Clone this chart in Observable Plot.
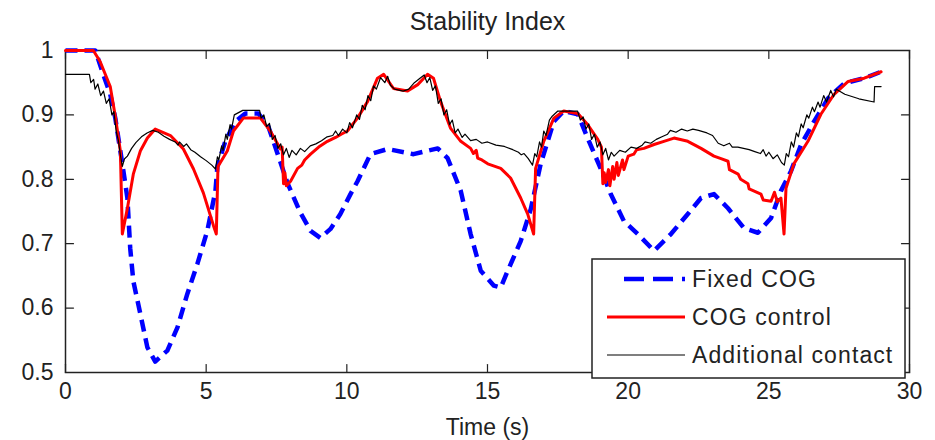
<!DOCTYPE html>
<html>
<head>
<meta charset="utf-8">
<script src="https://cdn.jsdelivr.net/npm/d3@7"></script>
<script src="https://cdn.jsdelivr.net/npm/@observablehq/plot@0.6"></script>
<style>
  body { margin: 0; background: #fff; }
  #wrap { position: relative; width: 935px; height: 440px; font-family: "Liberation Sans", Arial, sans-serif; }
  #legend { position: absolute; left: 591px; top: 258px; }
</style>
</head>
<body>
<div id="wrap"></div>
<script>
const title = "Stability Index";
const xLabel = "Time (s)";
const seriesNames = ["Fixed COG", "COG control", "Additional contact"];
const seriesColors = ["#0000ff", "#ff0000", "#000000"];
const xTicks = [0, 5, 10, 15, 20, 25, 30];
const yTicks = [0.5, 0.6, 0.7, 0.8, 0.9, 1];

// Fixed COG (blue dashed): [time, index]
const fixedCOG = [
  [0,1.0],[1.06,1.0],[1.34,0.963],[1.59,0.932],[1.77,0.895],[2.02,0.824],[2.2,0.771],[2.3,0.693],
  [2.41,0.642],[2.66,0.591],[2.91,0.539],[3.19,0.517],[3.62,0.534],[3.98,0.57],[4.33,0.622],
  [4.69,0.669],[5.04,0.72],[5.33,0.782],[5.4,0.82],[5.68,0.859],[6.04,0.89],[6.39,0.902],
  [6.86,0.902],[7.21,0.882],[7.39,0.859],[7.89,0.794],[8.35,0.748],[8.71,0.72],[9.06,0.709],
  [9.42,0.723],[9.77,0.746],[10.13,0.777],[10.38,0.797],[10.84,0.839],[11.45,0.847],[12.37,0.839],
  [13.23,0.848],[13.58,0.833],[14.05,0.782],[14.4,0.715],[14.76,0.658],[15.22,0.635],[15.47,0.632],
  [15.72,0.658],[16.18,0.704],[16.54,0.754],[16.89,0.824],[17.36,0.89],[17.71,0.906],[18.21,0.901],
  [18.56,0.864],[19.02,0.817],[19.38,0.777],[19.85,0.735],[20.34,0.715],[20.92,0.689],[21.52,0.715],
  [22.12,0.746],[22.59,0.771],[23.05,0.777],[23.55,0.755],[24.12,0.724],[24.61,0.717],[25.08,0.74],
  [25.43,0.782],[25.79,0.813],[26.15,0.854],[26.61,0.89],[27.11,0.926],[27.68,0.949],[28.39,0.957],
  [28.99,0.967]
];

// COG control (red solid)
const cogControl = [
  [0,1.0],[0.99,1.0],[1.23,0.983],[1.59,0.944],[1.77,0.898],[1.95,0.844],[2.02,0.715],[2.2,0.755],
  [2.41,0.808],[2.66,0.844],[2.91,0.864],[3.19,0.878],[3.73,0.868],[4.19,0.847],[4.55,0.816],
  [4.9,0.779],[5.26,0.728],[5.36,0.715],[5.42,0.82],[5.75,0.844],[5.97,0.875],[6.32,0.895],
  [6.93,0.895],[7.28,0.875],[7.64,0.847],[7.7,0.85],[7.75,0.793],[7.8,0.81],[7.85,0.79],[8.0,0.797],
  [8.25,0.817],[8.4,0.822],[8.5,0.83],[8.71,0.839],[9.0,0.85],[9.31,0.859],[9.6,0.865],[9.8,0.87],
  [10.02,0.875],[10.38,0.895],[10.74,0.921],[11.09,0.957],[11.31,0.963],[11.66,0.941],[12.16,0.937],
  [12.52,0.947],[12.87,0.963],[13.08,0.957],[13.33,0.921],[13.69,0.879],[14.05,0.859],[14.4,0.848],
  [14.5,0.84],[14.6,0.845],[14.65,0.833],[14.8,0.83],[15.01,0.824],[15.47,0.817],[15.82,0.802],
  [16.18,0.771],[16.43,0.746],[16.64,0.715],[16.71,0.817],[17.0,0.859],[17.36,0.895],[17.71,0.906],
  [18.21,0.902],[18.56,0.885],[18.92,0.862],[19.05,0.85],[19.1,0.793],[19.15,0.81],[19.2,0.795],
  [19.3,0.815],[19.35,0.79],[19.45,0.82],[19.5,0.8],[19.6,0.826],[19.65,0.806],[19.8,0.83],
  [19.85,0.815],[20.0,0.836],[20.2,0.839],[20.3,0.846],[20.56,0.848],[20.92,0.854],[21.27,0.859],
  [21.63,0.864],[22.12,0.859],[22.59,0.848],[23.05,0.836],[23.3,0.832],[23.55,0.828],[23.6,0.815],
  [23.91,0.808],[24.0,0.8],[24.26,0.793],[24.3,0.785],[24.72,0.777],[24.8,0.768],[25.08,0.766],
  [25.2,0.78],[25.3,0.765],[25.43,0.771],[25.54,0.715],[25.61,0.786],[25.89,0.824],[26.39,0.859],
  [26.85,0.901],[27.32,0.932],[27.82,0.952],[28.39,0.957],[28.99,0.967]
];

// Additional contact (black thin)
const contact = [
  [0,0.963],[0.85,0.963],[0.9,0.95],[1.0,0.955],[1.05,0.94],[1.15,0.948],[1.25,0.93],[1.35,0.937],
  [1.45,0.918],[1.55,0.925],[1.65,0.9],[1.72,0.905],[1.8,0.875],[1.88,0.86],[1.95,0.838],[2.02,0.82],
  [2.1,0.832],[2.2,0.836],[2.35,0.848],[2.5,0.857],[2.7,0.866],[2.9,0.872],[3.1,0.876],[3.3,0.873],
  [3.5,0.867],[3.7,0.862],[3.9,0.858],[4.0,0.853],[4.05,0.858],[4.2,0.851],[4.3,0.855],[4.45,0.846],
  [4.6,0.842],[4.8,0.835],[5.0,0.829],[5.2,0.822],[5.33,0.816],[5.4,0.835],[5.45,0.83],[5.55,0.852],
  [5.6,0.845],[5.7,0.87],[5.75,0.862],[5.85,0.885],[5.9,0.878],[6.0,0.9],[6.3,0.907],[6.9,0.907],
  [6.95,0.895],[7.05,0.9],[7.15,0.882],[7.25,0.887],[7.35,0.862],[7.45,0.868],[7.55,0.848],[7.65,0.855],
  [7.75,0.838],[7.85,0.848],[7.95,0.834],[8.05,0.845],[8.2,0.838],[8.35,0.848],[8.5,0.843],[8.7,0.852],
  [8.9,0.855],[9.1,0.86],[9.3,0.866],[9.5,0.868],[9.6,0.875],[9.7,0.868],[9.85,0.878],[10.0,0.872],
  [10.1,0.888],[10.2,0.88],[10.35,0.9],[10.45,0.893],[10.55,0.915],[10.65,0.908],[10.75,0.93],
  [10.85,0.922],[10.95,0.945],[11.05,0.94],[11.2,0.958],[11.35,0.95],[11.45,0.96],[11.55,0.946],
  [11.7,0.94],[12.0,0.937],[12.2,0.94],[12.4,0.95],[12.6,0.957],[12.75,0.962],[12.85,0.95],[12.95,0.958],
  [13.05,0.938],[13.15,0.945],[13.25,0.918],[13.35,0.925],[13.45,0.9],[13.55,0.908],[13.65,0.885],
  [13.75,0.892],[13.85,0.872],[13.95,0.878],[14.1,0.865],[14.2,0.87],[14.4,0.86],[14.6,0.862],
  [14.8,0.856],[15.0,0.858],[15.3,0.853],[15.6,0.851],[15.9,0.846],[16.1,0.842],[16.2,0.838],[16.3,0.84],
  [16.45,0.832],[16.6,0.822],[16.68,0.84],[16.75,0.835],[16.85,0.858],[16.92,0.85],[17.0,0.875],
  [17.08,0.868],[17.2,0.892],[17.3,0.898],[17.5,0.906],[18.2,0.906],[18.3,0.892],[18.4,0.897],
  [18.5,0.878],[18.6,0.886],[18.7,0.862],[18.8,0.87],[18.9,0.85],[19.0,0.858],[19.1,0.838],[19.2,0.848],
  [19.3,0.83],[19.4,0.842],[19.5,0.836],[19.7,0.845],[19.9,0.842],[20.1,0.85],[20.3,0.848],[20.5,0.853],
  [20.6,0.858],[20.8,0.856],[21.0,0.862],[21.2,0.866],[21.4,0.87],[21.5,0.876],[21.7,0.873],[21.9,0.878],
  [22.1,0.875],[22.3,0.878],[22.5,0.876],[22.8,0.872],[23.0,0.868],[23.2,0.856],[23.4,0.852],[23.6,0.856],
  [23.7,0.85],[23.9,0.85],[24.1,0.848],[24.3,0.846],[24.5,0.843],[24.7,0.84],[24.8,0.846],[24.9,0.836],
  [25.0,0.842],[25.15,0.832],[25.3,0.838],[25.45,0.826],[25.55,0.822],[25.62,0.84],[25.7,0.835],
  [25.8,0.858],[25.88,0.85],[25.98,0.872],[26.05,0.866],[26.15,0.886],[26.22,0.88],[26.35,0.9],
  [26.42,0.895],[26.55,0.912],[26.62,0.905],[26.75,0.92],[26.82,0.912],[26.95,0.93],[27.05,0.92],
  [27.2,0.938],[27.3,0.928],[27.4,0.94],[27.7,0.932],[28.2,0.925],[28.74,0.92],[28.76,0.944],[28.99,0.944]
];

const tickLen = 8;
const tickShape = { draw(context, l) { context.moveTo(0, 0); context.lineTo(0, -l); } };
const yFmt = d => String(+d.toFixed(1));

const chart = Plot.plot({
  width: 935,
  height: 440,
  marginLeft: 65,
  marginRight: 26,
  marginTop: 50,
  marginBottom: 68,
  style: { fontFamily: "'Liberation Sans', Arial, sans-serif", background: "#fff", color: "#222" },
  x: { domain: [0, 30] },
  y: { domain: [0.5, 1] },
  marks: [
    Plot.frame({ stroke: "#222", strokeWidth: 1.5 }),
    Plot.axisX(xTicks, { anchor: "bottom", tickSize: 0, tickPadding: 10, fontSize: 23, label: null, tickFormat: d => String(d), fill: "#222" }),
    Plot.axisY(yTicks, { anchor: "left", tickSize: 0, tickPadding: 12, fontSize: 23, label: null, tickFormat: yFmt, fill: "#222" }),
    Plot.vector(xTicks, { x: d => d, y: 0.5, length: tickLen, rotate: 0, anchor: "start", shape: tickShape, stroke: "#222", strokeWidth: 1.2 }),
    Plot.vector(xTicks, { x: d => d, y: 1, length: tickLen, rotate: 180, anchor: "start", shape: tickShape, stroke: "#222", strokeWidth: 1.2 }),
    Plot.vector(yTicks, { x: 0, y: d => d, length: tickLen, rotate: 90, anchor: "start", shape: tickShape, stroke: "#222", strokeWidth: 1.2 }),
    Plot.vector(yTicks, { x: 30, y: d => d, length: tickLen, rotate: -90, anchor: "start", shape: tickShape, stroke: "#222", strokeWidth: 1.2 }),
    Plot.line(fixedCOG, { x: d => d[0], y: d => d[1], stroke: seriesColors[0], strokeWidth: 4.5, strokeDasharray: "12,7", strokeLinecap: "butt" }),
    Plot.line(cogControl, { x: d => d[0], y: d => d[1], stroke: seriesColors[1], strokeWidth: 3 }),
    Plot.line(contact, { x: d => d[0], y: d => d[1], stroke: seriesColors[2], strokeWidth: 1.2 }),
    Plot.text([title], { frameAnchor: "top", dy: -29, lineAnchor: "middle", fontSize: 25, fill: "#222" }),
    Plot.text([xLabel], { frameAnchor: "bottom", dy: 55, lineAnchor: "middle", fontSize: 23, fill: "#222" })
  ]
});
document.getElementById("wrap").appendChild(chart);

// Legend box
const ns = "http://www.w3.org/2000/svg";
const lg = document.createElementNS(ns, "svg");
lg.setAttribute("id", "legend");
lg.setAttribute("width", 316);
lg.setAttribute("height", 122);
const box = document.createElementNS(ns, "rect");
box.setAttribute("x", 1); box.setAttribute("y", 1);
box.setAttribute("width", 313); box.setAttribute("height", 119);
box.setAttribute("fill", "#fff"); box.setAttribute("stroke", "#222"); box.setAttribute("stroke-width", 1.5);
lg.appendChild(box);
const rowsY = [21, 59, 97];
const widths = [4.5, 3, 1.2];
const dashes = ["20,9", null, null];
seriesNames.forEach((name, i) => {
  const ln = document.createElementNS(ns, "line");
  ln.setAttribute("x1", i === 0 ? 33 : 16); ln.setAttribute("x2", 94);
  ln.setAttribute("y1", rowsY[i]); ln.setAttribute("y2", rowsY[i]);
  ln.setAttribute("stroke", seriesColors[i]); ln.setAttribute("stroke-width", widths[i]);
  if (dashes[i]) ln.setAttribute("stroke-dasharray", dashes[i]);
  lg.appendChild(ln);
  const tx = document.createElementNS(ns, "text");
  tx.setAttribute("x", 101); tx.setAttribute("y", rowsY[i]);
  tx.setAttribute("dy", "0.36em");
  tx.setAttribute("font-size", 23);
  tx.setAttribute("letter-spacing", "1.1");
  tx.setAttribute("fill", "#222");
  tx.setAttribute("font-family", "'Liberation Sans', Arial, sans-serif");
  tx.textContent = name;
  lg.appendChild(tx);
});
document.getElementById("wrap").appendChild(lg);
</script>
</body>
</html>
